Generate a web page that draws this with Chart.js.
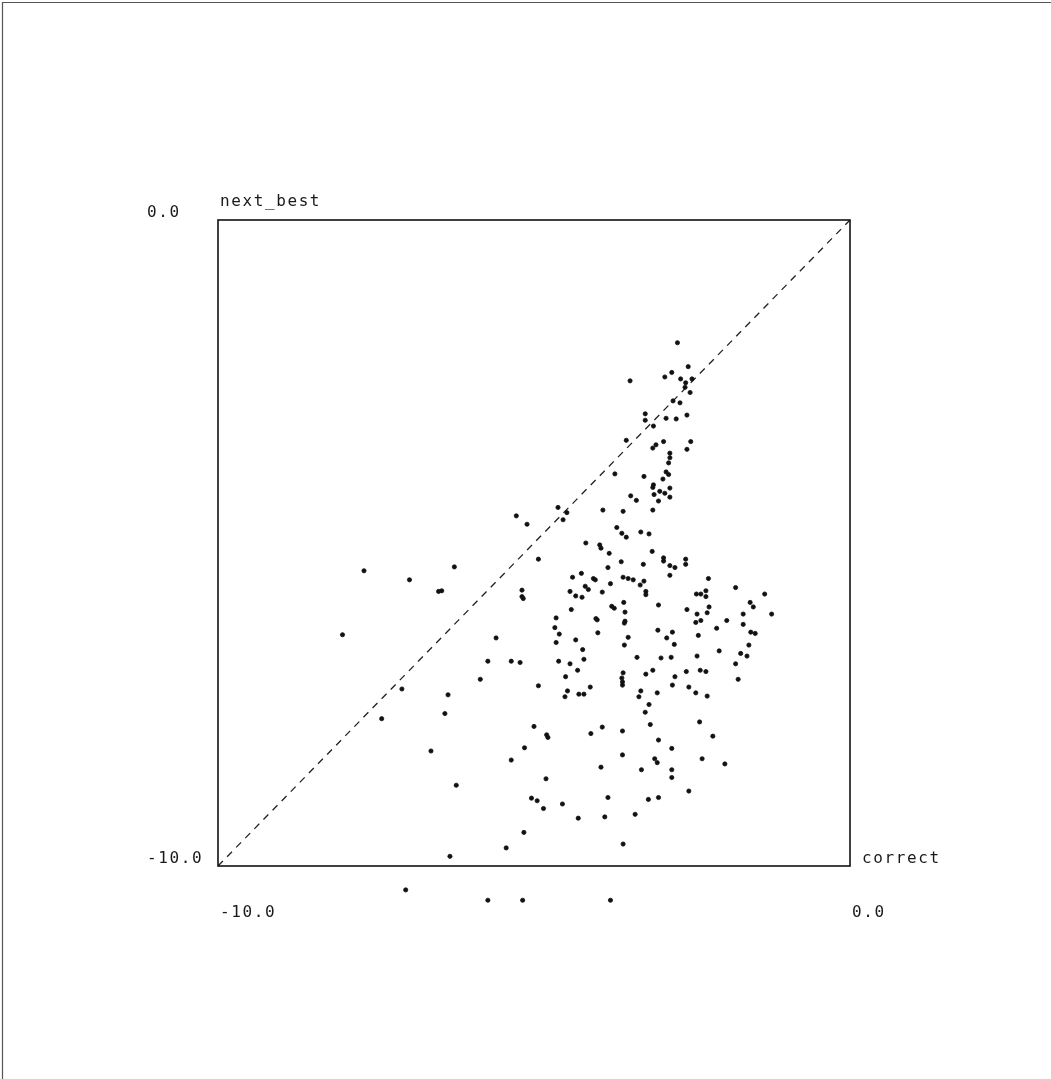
<!DOCTYPE html>
<html><head><meta charset="utf-8">
<script src="https://cdn.jsdelivr.net/npm/chart.js@4/dist/chart.umd.min.js"></script>
<style>html,body{margin:0;padding:0;background:#fff;overflow:hidden}
#wrap{position:relative;width:1051px;height:1079px}</style></head>
<body><div id="wrap"><canvas id="c" width="1051" height="1079"></canvas></div>
<script>
const correct = [
-2.73,-2.56,-2.93,-2.82,-2.68,-2.60,-2.50,-2.61,-2.53,-3.48,
-2.80,-2.69,-3.24,-3.24,-2.91,-2.75,-2.58,-3.11,-3.54,-2.95,
-2.52,-3.12,-3.07,-2.58,-2.85,-2.85,-2.87,-3.72,-3.26,-2.91,
-2.87,-2.96,-3.11,-3.12,-3.01,-2.93,-2.85,-3.10,-2.85,-3.47,
-3.38,-3.03,-4.62,-3.12,-4.48,-4.54,-5.28,-5.11,-3.91,-3.59,
-3.69,-3.61,-3.54,-3.31,-3.18,-4.18,-3.96,-3.94,-3.81,-3.13,
-4.93,-3.62,-3.27,-3.83,-4.25,-4.39,-4.06,-4.03,-3.59,-3.51,
-3.43,-3.26,-3.32,-3.79,-4.19,-4.14,-5.19,-4.43,-4.34,-4.24,
-3.92,-5.19,-5.17,-3.23,-3.23,-3.03,-3.58,-3.77,-3.73,-4.41,
-3.56,-4.65,-4.02,-4.00,-3.56,-3.57,-4.67,-4.60,-3.99,-3.04,
-5.60,-3.51,-4.34,-4.65,-4.23,-3.57,-3.37,-4.21,-4.61,-5.73,
-5.36,-5.22,-4.43,-4.31,-3.59,-3.23,-3.12,-4.50,-3.61,
-2.95,-2.95,-2.60,-2.60,-2.85,-2.77,
-2.85,-2.24,-1.81,-1.35,-2.43,-2.36,-2.28,-2.28,-2.58,-2.23,
-1.58,-1.53,-2.42,-2.26,-1.69,-1.24,-2.44,-2.36,-1.95,-1.69,
-2.11,-2.81,-2.90,-2.40,-1.57,-1.50,-2.78,-1.60,-2.07,-1.73,
-1.63,-2.99,-2.83,-2.42,-1.81,-2.37,-2.28,-2.59,-1.77,-2.77,
-2.81,-2.55,-3.31,-3.05,-2.44,-2.26,-3.18,
-7.69,-6.97,-6.26,-6.51,-6.46,-8.03,-5.85,-7.09,-6.36,-7.41,-6.41,
-4.93,-4.51,-4.47,-4.29,-5.00,-4.80,-4.78,-6.63,-5.15,-5.36,
-4.81,-6.23,-5.04,-4.95,-4.85,-4.55,-4.30,-5.16,-5.44,-6.33,
-4.21,-4.11,-3.60,-3.60,-3.34,-3.24,-3.16,-2.38,-2.17,-3.92,
-4.10,-3.60,-3.03,-2.82,-3.60,-3.09,-3.05,-2.34,-1.98,-3.94,
-3.30,-2.82,-2.82,-2.55,-3.83,-3.19,-3.03,-3.40,-3.88,-3.59,
-7.03,-5.73,-5.18,-3.79
];
const nextBest = [
-1.90,-2.27,-2.43,-2.36,-2.46,-2.52,-2.46,-2.59,-2.67,-2.49,
-2.80,-2.83,-3.00,-3.10,-3.07,-3.08,-3.02,-3.19,-3.41,-3.43,
-3.43,-3.53,-3.48,-3.55,-3.61,-3.68,-3.76,-3.93,-3.97,-3.90,
-3.94,-4.01,-4.10,-4.14,-4.20,-4.23,-4.15,-4.25,-4.29,-4.27,
-4.34,-4.35,-4.45,-4.49,-4.53,-4.64,-4.58,-4.71,-4.49,-4.51,
-4.76,-4.85,-4.91,-4.83,-4.86,-5.00,-5.03,-5.08,-5.16,-5.13,
-5.25,-5.29,-5.33,-5.38,-5.47,-5.53,-5.55,-5.57,-5.53,-5.55,
-5.57,-5.59,-5.65,-5.63,-5.67,-5.72,-5.73,-5.75,-5.82,-5.84,
-5.76,-5.83,-5.86,-5.75,-5.80,-5.96,-5.92,-5.98,-6.01,-6.03,
-6.07,-6.16,-6.17,-6.19,-6.21,-6.24,-6.31,-6.41,-6.39,-6.35,
-6.47,-6.46,-6.50,-6.54,-6.65,-6.58,-6.77,-6.80,-6.83,-6.83,
-6.83,-6.85,-6.87,-6.97,-7.01,-7.03,-6.97,-7.07,-7.09,
-5.23,-5.28,-5.25,-5.33,-5.35,-5.38,
-5.50,-5.55,-5.69,-5.79,-5.79,-5.79,-5.74,-5.83,-6.03,-5.99,
-5.92,-5.99,-6.10,-6.08,-6.10,-6.10,-6.23,-6.20,-6.20,-6.26,
-6.32,-6.38,-6.47,-6.43,-6.38,-6.40,-6.57,-6.58,-6.67,-6.71,
-6.75,-6.78,-6.77,-6.75,-6.87,-6.97,-6.99,-6.99,-7.11,-7.07,
-7.20,-7.23,-7.29,-7.32,-7.32,-7.37,-7.50,
-5.43,-5.57,-5.37,-5.75,-5.74,-6.42,-7.11,-7.26,-7.35,-7.72,-7.64,
-7.21,-7.38,-7.29,-7.34,-7.84,-7.97,-8.01,-8.22,-8.17,-8.36,
-8.65,-8.75,-8.95,-8.99,-9.11,-9.04,-9.26,-9.48,-9.72,-9.85,
-7.34,-7.23,-7.15,-7.20,-7.38,-7.62,-7.81,-7.77,-7.99,-7.85,
-7.95,-7.91,-8.05,-8.18,-8.28,-8.34,-8.40,-8.34,-8.42,-8.47,
-8.51,-8.51,-8.63,-8.84,-8.94,-8.97,-8.94,-9.20,-9.24,-9.66,
-10.37,-10.53,-10.53,-10.53
];
const diagonal = [-10, 0];
const xTickValues = [-10, 0];
const xTickLabels = ['-10.0', '0.0'];
const yTickValues = [0, -10];
const yTickLabels = ['0.0', '-10.0'];
const xTitle = 'correct';
const yTitle = 'next_best';
const boxMin = -10, boxMax = 0;

const points = correct.map((v, i) => ({x: v, y: nextBest[i]}));

const decor = {
  id: 'decor',
  beforeDraw(chart) {
    const ctx = chart.ctx;
    ctx.save();
    ctx.fillStyle = '#fff';
    ctx.fillRect(0, 0, chart.width, chart.height);
    ctx.strokeStyle = '#555';
    ctx.lineWidth = 1.2;
    ctx.beginPath();
    ctx.moveTo(2.5, chart.height);
    ctx.lineTo(2.5, 2.5);
    ctx.lineTo(chart.width, 2.5);
    ctx.stroke();
    ctx.restore();
  },
  afterDatasetsDraw(chart) {
    const {ctx, scales: {x, y}} = chart;
    const L = x.getPixelForValue(boxMin), R = x.getPixelForValue(boxMax);
    const T = y.getPixelForValue(boxMax), B = y.getPixelForValue(boxMin);
    ctx.save();
    ctx.strokeStyle = '#111';
    ctx.lineWidth = 1.6;
    ctx.strokeRect(L, T, R - L, B - T);
    ctx.font = '16px "DejaVu Sans Mono"';
    try { ctx.letterSpacing = '1.6px'; } catch (e) {}
    ctx.fillStyle = '#1a1a1a';
    ctx.textAlign = 'left';
    ctx.textBaseline = 'alphabetic';
    xTickValues.forEach((v, i) => ctx.fillText(xTickLabels[i], x.getPixelForValue(v) + 2, B + 51));
    yTickValues.forEach((v, i) => ctx.fillText(yTickLabels[i], L - 71, y.getPixelForValue(v) - 3));
    ctx.fillText(yTitle, L + 2, T - 14);
    ctx.fillText(xTitle, R + 12, B - 3);
    ctx.restore();
  }
};

new Chart(document.getElementById('c'), {
  type: 'scatter',
  data: {
    datasets: [
      {type: 'line', data: diagonal.map(v => ({x: v, y: v})), borderColor: '#222', borderWidth: 1.3,
       borderDash: [7, 6], pointRadius: 0, fill: false, order: 2},
      {data: points, backgroundColor: '#111', borderColor: '#111', borderWidth: 0.8, pointRadius: 2.1,
       clip: false, order: 1}
    ]
  },
  options: {
    responsive: false,
    animation: false,
    devicePixelRatio: 1,
    layout: {padding: {left: 218, right: 201, top: 220, bottom: 148.4}},
    plugins: {legend: {display: false}, tooltip: {enabled: false}},
    scales: {
      x: {type: 'linear', min: -10, max: 0, display: false},
      y: {type: 'linear', min: -11, max: 0, display: false}
    }
  },
  plugins: [decor]
});
</script>
</body></html>
